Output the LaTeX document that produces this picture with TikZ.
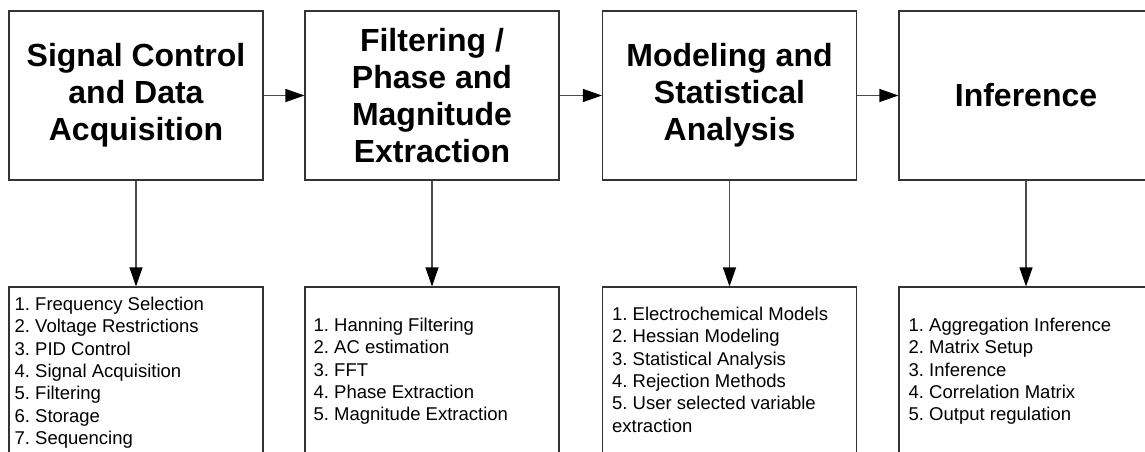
\documentclass[tikz,border=0pt]{standalone}
\usepackage{fontspec}
\setmainfont{Liberation Sans}
\usetikzlibrary{arrows.meta,positioning}
\frenchspacing

\begin{document}
\begin{tikzpicture}[x=1pt,y=1pt,>={Triangle[length=19pt,width=13pt,color=black]},
      stage/.style={draw=black!80,line width=1.1pt,fill=white,inner sep=0pt,
        minimum width=254pt,minimum height=169pt,align=center,
        font=\fontsize{32}{37}\selectfont\bfseries},
      tasks/.style={draw=black!80,line width=1.1pt,fill=white,inner sep=0pt,
        minimum width=254pt,minimum height=200pt},
      listtext/.style={inner sep=0pt,align=left,anchor=north west,
        font=\fontsize{18.5}{22.3}\selectfont},
      link/.style={->,draw=black!70,line width=1.1pt}]
    \useasboundingbox (0,0) rectangle (1145,-452);
    \clip (0,0) rectangle (1145,-452);
    % top row: processing stages
    \node[stage] (acq) at (136,-95.5) {Signal Control\\and Data\\Acquisition};
    \node[stage] (filt) at (432,-95.5) {Filtering /\\Phase and\\Magnitude\\Extraction};
    \node[stage] (model) at (729.5,-95.5) {Modeling and\\Statistical\\Analysis};
    \node[stage] (infer) at (1026,-95.5) {Inference};
    % bottom row: task lists (cut off at the lower edge)
    \node[tasks] (acqlist) at (136,-387) {};
    \node[tasks] (filtlist) at (432,-387) {};
    \node[tasks] (modlist) at (729.5,-387) {};
    \node[tasks] (inflist) at (1026,-387) {};
    \node[listtext] (acqtext) at ([xshift=6,yshift=-10.5]acqlist.north west)
      {1. Frequency Selection\\2. Voltage Restrictions\\3. PID Control\\
       4. Signal Acquisition\\5. Filtering\\6. Storage\\7. Sequencing};
    \node[listtext] (filttext) at ([xshift=9,yshift=-31.5]filtlist.north west)
      {1. Hanning Filtering\\2. AC estimation\\3. FFT\\4. Phase Extraction\\
       5. Magnitude Extraction};
    \node[listtext] (modtext) at ([xshift=10,yshift=-20.5]modlist.north west)
      {1. Electrochemical Models\\2. Hessian Modeling\\3. Statistical Analysis\\
       4. Rejection Methods\\5. User selected variable\\extraction};
    \node[listtext] (inftext) at ([xshift=10,yshift=-31.5]inflist.north west)
      {1. Aggregation Inference\\2. Matrix Setup\\3. Inference\\
       4. Correlation Matrix\\5. Output regulation};
    \draw[link] (acq) -- (filt); \draw[link] (filt) -- (model);
    \draw[link] (model) -- (infer);
    \draw[link] (acq) -- (acqlist); \draw[link] (filt) -- (filtlist);
    \draw[link] (model) -- (modlist); \draw[link] (infer) -- (inflist);
\end{tikzpicture}
\end{document}
